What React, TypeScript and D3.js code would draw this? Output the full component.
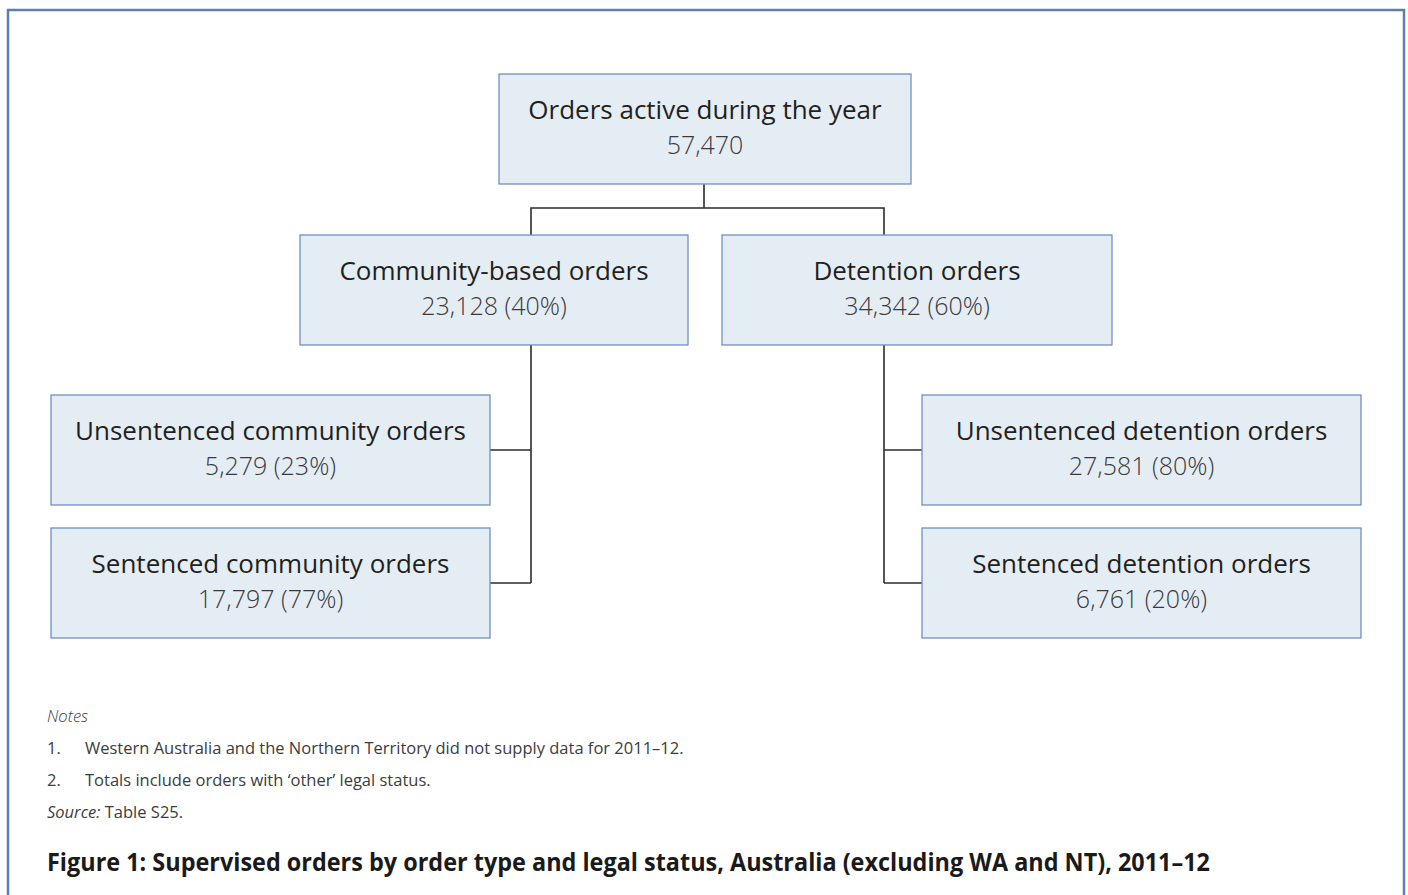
import React from "react";
import * as d3 from "d3";

// node data
const nodeIds = ["total", "community", "detention", "unsentComm", "sentComm", "unsentDet", "sentDet"];
const nodeLabels = [
  "Orders active during the year",
  "Community-based orders",
  "Detention orders",
  "Unsentenced community orders",
  "Sentenced community orders",
  "Unsentenced detention orders",
  "Sentenced detention orders",
];
const nodeValues = [57470, 23128, 34342, 5279, 17797, 27581, 6761];
const nodeShares = [null, 40, 60, 23, 77, 80, 20];
const nodeParents = [null, "total", "total", "community", "community", "detention", "detention"];

const notes = [
  "Western Australia and the Northern Territory did not supply data for 2011\u201312.",
  "Totals include orders with \u2018other\u2019 legal status.",
];
const sourceText = "Table S25.";
const figureTitle =
  "Figure 1: Supervised orders by order type and legal status, Australia (excluding WA and NT), 2011\u201312";

const W = 1408;
const H = 895;
const BOX_H = 110;

// layout: rows and columns of the tree
const rowTop = d3.scaleOrdinal<number, number>().domain([0, 1, 2, 3]).range([74, 235, 395, 528]);
const colBox: Record<string, [number, number]> = {
  total: [499, 911],
  community: [300, 688],
  detention: [722, 1112],
  unsentComm: [51, 490],
  sentComm: [51, 490],
  unsentDet: [922, 1361],
  sentDet: [922, 1361],
};
const nodeRow = [0, 1, 1, 2, 3, 2, 3];
const trunkX: Record<string, number> = { total: 704, community: 531, detention: 884 };

const fmt = d3.format(",");
const FONT = "'Open Sans', 'Noto Sans', sans-serif";

export default function App() {
  const nodes = nodeIds.map((id, i) => {
    const [x0, x1] = colBox[id];
    const y0 = rowTop(nodeRow[i]);
    return { id, i, x0, x1, y0, y1: y0 + BOX_H, cx: (x0 + x1) / 2, cy: y0 + BOX_H / 2 };
  });
  const byId = Object.fromEntries(nodes.map((n) => [n.id, n]));

  const links: string[] = [];
  // top -> level 1 (bracket)
  const top = byId.total;
  const busY = top.y1 + 24;
  links.push(`M${trunkX.total},${top.y1}V${busY}`);
  links.push(`M${trunkX.community},${byId.community.y0}V${busY}H${trunkX.detention}V${byId.detention.y0}`);
  // level 1 -> leaves (side rails)
  ["community", "detention"].forEach((pid) => {
    const p = byId[pid];
    const kids = nodes.filter((n, i) => nodeParents[i] === pid);
    const tx = trunkX[pid];
    const lastY = kids[kids.length - 1].y0 + 55;
    links.push(`M${tx},${p.y1}V${lastY}`);
    kids.forEach((k) => {
      const edge = k.x1 < tx ? k.x1 : k.x0;
      const ky = k.y0 + 55;
      links.push(`M${edge},${ky}H${tx}`);
    });
  });

  return (
    <svg width={W} height={H} style={{ position: "absolute", left: 0, top: 0, background: "#fff" }}>
      <rect x={8} y={10} width={1396} height={H + 20} fill="#fff" stroke="#5a7fb0" strokeWidth={2.5} />

      {links.map((d, i) => (
        <path key={i} d={d} fill="none" stroke="#2b2b2b" strokeWidth={1.6} />
      ))}

      {nodes.map((n) => (
        <g key={n.id}>
          <rect
            x={n.x0}
            y={n.y0}
            width={n.x1 - n.x0}
            height={BOX_H}
            fill="#e5edf4"
            stroke="#6e91c0"
            strokeWidth={1.3}
          />
          <text x={n.cx} y={n.y0 + 45} textAnchor="middle" fontFamily={FONT} fontSize={26} fill="#231f20">
            {nodeLabels[n.i]}
          </text>
          <text
            x={n.cx}
            y={n.y0 + 80}
            textAnchor="middle"
            fontFamily={FONT}
            fontSize={25}
            fontWeight={300}
            fill="#3a3a3a"
          >
            {fmt(nodeValues[n.i]) + (nodeShares[n.i] != null ? ` (${nodeShares[n.i]}%)` : "")}
          </text>
        </g>
      ))}

      <g fontFamily={FONT} fontSize={16.5} fill="#3c3c3c">
        <text x={47} y={722} fontStyle="italic" fontWeight={300}>Notes</text>
        {notes.map((t, i) => (
          <g key={i}>
            <text x={47} y={754 + i * 32}>{`${i + 1}.`}</text>
            <text x={85} y={754 + i * 32}>{t}</text>
          </g>
        ))}
        <text x={47} y={818}>
          <tspan fontStyle="italic">Source:</tspan> {sourceText}
        </text>
      </g>

      <text
        x={47}
        y={871}
        fontFamily={FONT}
        fontSize={25}
        fontWeight={700}
        fill="#1a1a1a"
        textLength={1163}
        lengthAdjust="spacingAndGlyphs"
      >
        {figureTitle}
      </text>
    </svg>
  );
}
